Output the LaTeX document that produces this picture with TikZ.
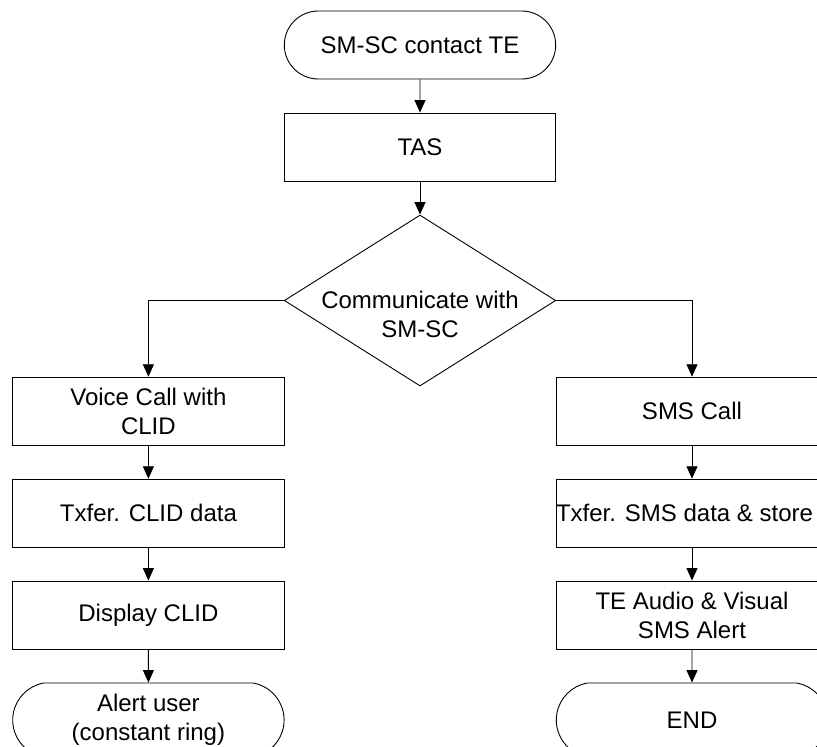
\documentclass[tikz,border=0pt]{standalone}
\usepackage{fontspec}
\setmainfont{Liberation Sans}
\usetikzlibrary{shapes.geometric,shapes.misc,arrows.meta}
\begin{document}
\begin{tikzpicture}[x=1pt,y=-1pt,
  every node/.style={font=\fontsize{24}{29}\selectfont, align=center, inner sep=0pt},
  proc/.style={draw, line width=0.9pt, rectangle, minimum width=271.4pt, minimum height=68pt},
  term/.style={draw, line width=0.9pt, rounded rectangle, minimum width=271.4pt, minimum height=68pt},
  termlow/.style={term, minimum height=74pt, rounded rectangle arc length=160},
  decision/.style={draw, line width=0.9pt, diamond, minimum width=271.4pt, minimum height=171pt},
  flow/.style={draw, line width=0.9pt, -{Triangle[length=12.5pt,width=11pt]}}
]
\useasboundingbox (0,0) rectangle (817,747);
\clip (0,0) rectangle (817,747);

% main trunk
\node[term] (start) at (420,45) {SM-SC contact TE};
\node[proc] (tas) at (420,147) {TAS};
\node[decision] (dec) at (420,300.5) {};
\node (dectext) at (420,314) {Communicate with\\SM-SC};

% voice call branch
\node[proc] (voice) at (148.4,411.2) {Voice Call with\\CLID};
\node[proc] (txclid) at (148.4,513.2) {Txfer. CLID data};
\node[proc] (disp) at (148.4,615) {Display CLID};
\node[termlow] (alert) at (148.4,720) {Alert user\\(constant ring)};

% SMS branch (the long label starts at the box's left edge)
\node[proc] (sms) at (692,411.2) {SMS Call};
\node[proc] (txsms) at (692,513.2) {\hspace*{-15pt}Txfer. SMS data \& store};
\node[proc] (audio) at (692,615) {TE Audio \& Visual\\SMS Alert};
\node[termlow] (finish) at (692,720) {END};

% connectors
\draw[flow] (start) -- (tas);
\draw[flow] (tas) -- (dec);
\draw[flow] (dec.west) -| (voice.north);
\draw[flow] (dec.east) -| (sms.north);
\draw[flow] (voice) -- (txclid);
\draw[flow] (txclid) -- (disp);
\draw[flow] (disp) -- (alert);
\draw[flow] (sms) -- (txsms);
\draw[flow] (txsms) -- (audio);
\draw[flow] (audio) -- (finish);
\end{tikzpicture}
\end{document}
